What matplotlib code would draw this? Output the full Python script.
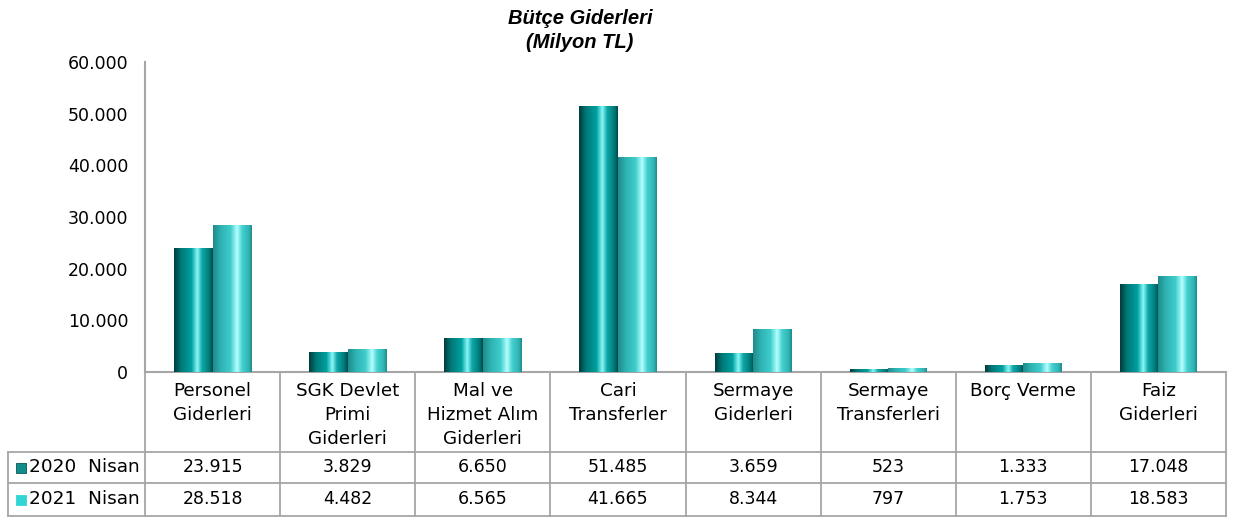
import numpy as np
import matplotlib.pyplot as plt
from matplotlib.colors import LinearSegmentedColormap
from matplotlib.patches import Rectangle
import matplotlib.transforms as mtransforms

# veriler
categories = ["Personel\nGiderleri", "SGK Devlet\nPrimi\nGiderleri", "Mal ve\nHizmet Alım\nGiderleri",
              "Cari\nTransferler", "Sermaye\nGiderleri", "Sermaye\nTransferleri", "Borç Verme",
              "Faiz\nGiderleri"]
series_names = ["2020  Nisan", "2021  Nisan"]
nisan_2020 = [23915, 3829, 6650, 51485, 3659, 523, 1333, 17048]
nisan_2021 = [28518, 4482, 6565, 41665, 8344, 797, 1753, 18583]
yticks = [0, 10000, 20000, 30000, 40000, 50000, 60000]

W, H = 1240, 518
fig = plt.figure(figsize=(W / 100, H / 100), dpi=100)
ax = fig.add_axes([145 / W, 1 - 372 / H, (1226 - 145) / W, (372 - 62) / H])

fs = 12.5
gray = '#a6a6a6'

# silindir görünümü için renk geçişleri
cm20 = LinearSegmentedColormap.from_list('c20', [(0, '#003c3c'), (0.18, '#007878'), (0.45, '#00a0a0'),
                                                 (0.6, '#8af8f8'), (0.72, '#10a8a8'), (0.9, '#007c7c'),
                                                 (1, '#004a4a')])
cm21 = LinearSegmentedColormap.from_list('c21', [(0, '#1f8a8a'), (0.2, '#2eb2b2'), (0.45, '#40cccc'),
                                                 (0.62, '#b4ffff'), (0.75, '#45d0d0'), (0.92, '#30b4b4'),
                                                 (1, '#208888')])
grad = np.linspace(0, 1, 256).reshape(1, -1)

x = np.arange(len(categories)) + 0.5
bw = 0.285
b1 = ax.bar(x - bw / 2, nisan_2020, width=bw, color='#009090', zorder=2)
b2 = ax.bar(x + bw / 2, nisan_2021, width=bw, color='#33cccc', zorder=2)

for bars, cm in [(b1, cm20), (b2, cm21)]:
    for r in bars:
        bx, w, h = r.get_x(), r.get_width(), r.get_height()
        im = ax.imshow(grad, extent=[bx, bx + w, 0, h], aspect='auto', cmap=cm, zorder=3)
        im.set_clip_path(r)

ax.set_xlim(0, len(categories))
ax.set_ylim(0, 60000)
ax.set_yticks(yticks)
ax.set_yticklabels([f"{v:,}".replace(",", ".") for v in yticks], fontsize=fs)
ax.tick_params(axis='y', length=0, pad=12)
ax.set_xticks([])
for s in ['top', 'right']:
    ax.spines[s].set_visible(False)
for s in ['left', 'bottom']:
    ax.spines[s].set_color(gray); ax.spines[s].set_linewidth(1.5)

fig.text(580 / W, 1 - 19 / H, "Bütçe Giderleri", ha='center', va='center', fontsize=14.5,
         family='Liberation Sans', weight='bold', style='italic')
fig.text(580 / W, 1 - 43 / H, "(Milyon TL)", ha='center', va='center', fontsize=14.5,
         family='Liberation Sans', weight='bold', style='italic')

# tablo
bt = mtransforms.blended_transform_factory(ax.transData, fig.transFigure)
ft = fig.transFigure
yy = [1 - p / H for p in (372, 452, 483, 516)]
lk = dict(color=gray, lw=1.3, clip_on=False)
for i in range(len(categories) + 1):
    ax.plot([i, i], [yy[0], yy[3]], transform=bt, **lk)
ax.plot([0, len(categories)], [yy[3], yy[3]], transform=bt, **lk)
for yv in (yy[1], yy[2]):
    ax.plot([8 / W, 1226 / W], [yv, yv], transform=ft, **lk)
ax.plot([8 / W, 8 / W], [yy[1], yy[3]], transform=ft, **lk)
ax.plot([8 / W, 145 / W], [yy[3], yy[3]], transform=ft, **lk)

for i, c in enumerate(categories):
    ax.text(x[i], 1 - 382 / H, c, transform=bt, ha='center', va='top', fontsize=13.2, linespacing=1.42)
    ax.text(x[i], (yy[1] + yy[2]) / 2, f"{nisan_2020[i]:,}".replace(",", "."), transform=bt,
            ha='center', va='center', fontsize=fs)
    ax.text(x[i], (yy[2] + yy[3]) / 2, f"{nisan_2021[i]:,}".replace(",", "."), transform=bt,
            ha='center', va='center', fontsize=fs)

for k, (nm, col) in enumerate(zip(series_names, ['#138c8c', '#33d4d4'])):
    yc = (yy[1 + k] + yy[2 + k]) / 2
    fig.patches.append(Rectangle((16 / W, yc - 5 / H), 10 / W, 10 / H, transform=ft,
                                 facecolor=col, edgecolor='#0a5555' if k == 0 else col, lw=0.6))
    fig.text(29 / W, yc, nm, ha='left', va='center', fontsize=13.3)

fig.savefig('out.png', dpi=100)
